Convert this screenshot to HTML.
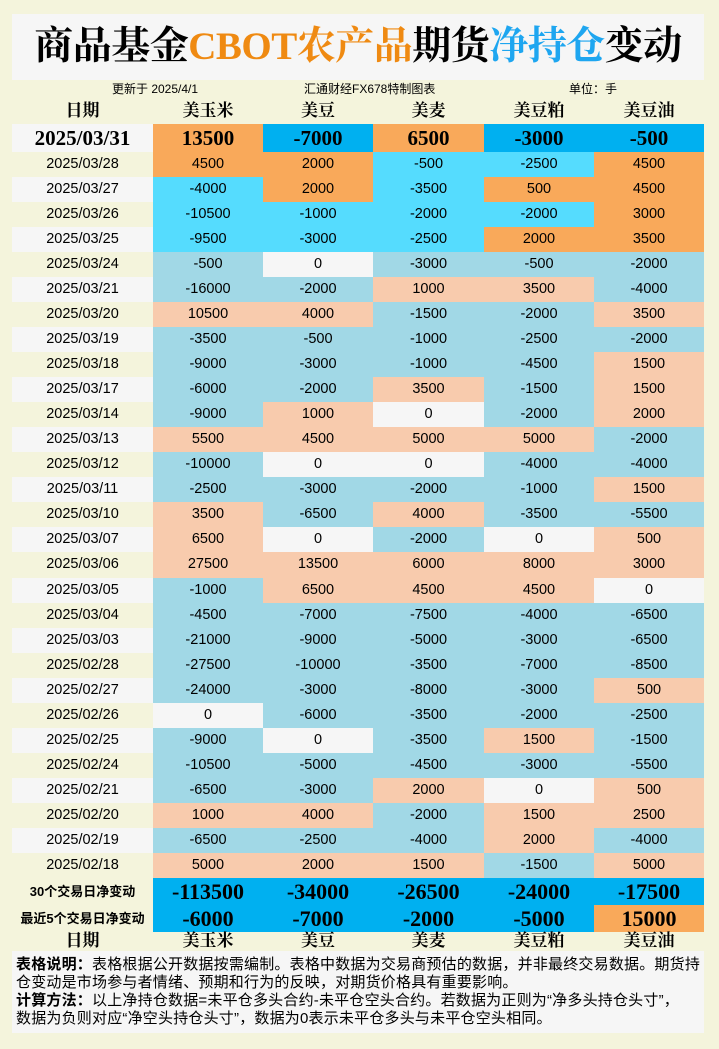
<!DOCTYPE html>
<html><head><meta charset="utf-8">
<style>
*{margin:0;padding:0;box-sizing:border-box}
body{width:719px;height:1049px;background:#f4f4dc;position:relative;overflow:hidden;font-family:"Liberation Sans","Noto Sans CJK SC",sans-serif;color:#000}
.title{position:absolute;left:12px;top:14px;width:692px;height:66px;background:#f6f6f6;text-align:center;font-family:"Liberation Serif","Noto Serif CJK SC",serif;font-size:39px;line-height:66px;font-weight:bold;letter-spacing:-0.5px}
.sub{position:absolute;top:82px;font-size:12px;line-height:14px}
.hdr{position:absolute;left:12px;width:692px;height:20px;display:flex;font-family:"Liberation Serif","Noto Serif CJK SC",serif;font-size:17px;font-weight:bold;line-height:20px}
.hdr div{text-align:center}
.w0{width:141px}.w1{width:110px}.w2{width:110px}.w3{width:111px}.w4{width:110px}.w5{width:110px}
.row{position:absolute;left:12px;width:692px;display:flex;height:25.1px;line-height:25px}
.row div{text-align:center}
.d{font-size:14.5px}
.n{font-size:14.5px}
.big div{font-family:"Liberation Serif","Noto Serif CJK SC",serif;font-weight:bold;font-size:21px}
.sum div{font-family:"Liberation Serif","Noto Serif CJK SC",serif;font-weight:bold;font-size:22px}
.sum div.lab{font-family:"Liberation Sans","Noto Sans CJK SC",sans-serif;font-size:13px}
.o{background:#f9a95a}.c{background:#55dcfe}.p{background:#f8cbad}.b{background:#a1d8e6}.w{background:#f6f6f6}.k{background:#00b0f0}.cr{background:#f4f4dc}
.note{position:absolute;left:12px;top:951px;width:692px;height:82px;background:#f6f6f6;font-size:15px;line-height:18px;padding:5px 0 0 4px;white-space:nowrap;letter-spacing:0.2px}
</style></head><body>
<div class="title">商品基金<span style="color:#ef8a12">CBOT农产品</span>期货<span style="color:#1ea6f0">净持仓</span>变动</div>
<div class="sub" style="left:112px">更新于 2025/4/1</div>
<div class="sub" style="left:304px">汇通财经FX678特制图表</div>
<div class="sub" style="left:569px">单位：手</div>
<div class="hdr" style="top:101px"><div class="w0">日期</div><div class="w1">美玉米</div><div class="w2">美豆</div><div class="w3">美麦</div><div class="w4">美豆粕</div><div class="w5">美豆油</div></div>
<div class="row big" style="top:124px;height:28px;line-height:28px"><div class="w0 w">2025/03/31</div><div class="w1 o">13500</div><div class="w2 k">-7000</div><div class="w3 o">6500</div><div class="w4 k">-3000</div><div class="w5 k">-500</div></div>
<div class="row" style="top:152px"><div class="w0 d cr">2025/03/28</div><div class="w1 n o">4500</div><div class="w2 n o">2000</div><div class="w3 n c">-500</div><div class="w4 n c">-2500</div><div class="w5 n o">4500</div></div>
<div class="row" style="top:177.03px"><div class="w0 d w">2025/03/27</div><div class="w1 n c">-4000</div><div class="w2 n o">2000</div><div class="w3 n c">-3500</div><div class="w4 n o">500</div><div class="w5 n o">4500</div></div>
<div class="row" style="top:202.06px"><div class="w0 d cr">2025/03/26</div><div class="w1 n c">-10500</div><div class="w2 n c">-1000</div><div class="w3 n c">-2000</div><div class="w4 n c">-2000</div><div class="w5 n o">3000</div></div>
<div class="row" style="top:227.09px"><div class="w0 d w">2025/03/25</div><div class="w1 n c">-9500</div><div class="w2 n c">-3000</div><div class="w3 n c">-2500</div><div class="w4 n o">2000</div><div class="w5 n o">3500</div></div>
<div class="row" style="top:252.12px"><div class="w0 d cr">2025/03/24</div><div class="w1 n b">-500</div><div class="w2 n w">0</div><div class="w3 n b">-3000</div><div class="w4 n b">-500</div><div class="w5 n b">-2000</div></div>
<div class="row" style="top:277.15px"><div class="w0 d w">2025/03/21</div><div class="w1 n b">-16000</div><div class="w2 n b">-2000</div><div class="w3 n p">1000</div><div class="w4 n p">3500</div><div class="w5 n b">-4000</div></div>
<div class="row" style="top:302.18px"><div class="w0 d cr">2025/03/20</div><div class="w1 n p">10500</div><div class="w2 n p">4000</div><div class="w3 n b">-1500</div><div class="w4 n b">-2000</div><div class="w5 n p">3500</div></div>
<div class="row" style="top:327.21px"><div class="w0 d w">2025/03/19</div><div class="w1 n b">-3500</div><div class="w2 n b">-500</div><div class="w3 n b">-1000</div><div class="w4 n b">-2500</div><div class="w5 n b">-2000</div></div>
<div class="row" style="top:352.24px"><div class="w0 d cr">2025/03/18</div><div class="w1 n b">-9000</div><div class="w2 n b">-3000</div><div class="w3 n b">-1000</div><div class="w4 n b">-4500</div><div class="w5 n p">1500</div></div>
<div class="row" style="top:377.27px"><div class="w0 d w">2025/03/17</div><div class="w1 n b">-6000</div><div class="w2 n b">-2000</div><div class="w3 n p">3500</div><div class="w4 n b">-1500</div><div class="w5 n p">1500</div></div>
<div class="row" style="top:402.3px"><div class="w0 d cr">2025/03/14</div><div class="w1 n b">-9000</div><div class="w2 n p">1000</div><div class="w3 n w">0</div><div class="w4 n b">-2000</div><div class="w5 n p">2000</div></div>
<div class="row" style="top:427.33px"><div class="w0 d w">2025/03/13</div><div class="w1 n p">5500</div><div class="w2 n p">4500</div><div class="w3 n p">5000</div><div class="w4 n p">5000</div><div class="w5 n b">-2000</div></div>
<div class="row" style="top:452.36px"><div class="w0 d cr">2025/03/12</div><div class="w1 n b">-10000</div><div class="w2 n w">0</div><div class="w3 n w">0</div><div class="w4 n b">-4000</div><div class="w5 n b">-4000</div></div>
<div class="row" style="top:477.39px"><div class="w0 d w">2025/03/11</div><div class="w1 n b">-2500</div><div class="w2 n b">-3000</div><div class="w3 n b">-2000</div><div class="w4 n b">-1000</div><div class="w5 n p">1500</div></div>
<div class="row" style="top:502.42px"><div class="w0 d cr">2025/03/10</div><div class="w1 n p">3500</div><div class="w2 n b">-6500</div><div class="w3 n p">4000</div><div class="w4 n b">-3500</div><div class="w5 n b">-5500</div></div>
<div class="row" style="top:527.45px"><div class="w0 d w">2025/03/07</div><div class="w1 n p">6500</div><div class="w2 n w">0</div><div class="w3 n b">-2000</div><div class="w4 n w">0</div><div class="w5 n p">500</div></div>
<div class="row" style="top:552.48px"><div class="w0 d cr">2025/03/06</div><div class="w1 n p">27500</div><div class="w2 n p">13500</div><div class="w3 n p">6000</div><div class="w4 n p">8000</div><div class="w5 n p">3000</div></div>
<div class="row" style="top:577.51px"><div class="w0 d w">2025/03/05</div><div class="w1 n b">-1000</div><div class="w2 n p">6500</div><div class="w3 n p">4500</div><div class="w4 n p">4500</div><div class="w5 n w">0</div></div>
<div class="row" style="top:602.54px"><div class="w0 d cr">2025/03/04</div><div class="w1 n b">-4500</div><div class="w2 n b">-7000</div><div class="w3 n b">-7500</div><div class="w4 n b">-4000</div><div class="w5 n b">-6500</div></div>
<div class="row" style="top:627.57px"><div class="w0 d w">2025/03/03</div><div class="w1 n b">-21000</div><div class="w2 n b">-9000</div><div class="w3 n b">-5000</div><div class="w4 n b">-3000</div><div class="w5 n b">-6500</div></div>
<div class="row" style="top:652.6px"><div class="w0 d cr">2025/02/28</div><div class="w1 n b">-27500</div><div class="w2 n b">-10000</div><div class="w3 n b">-3500</div><div class="w4 n b">-7000</div><div class="w5 n b">-8500</div></div>
<div class="row" style="top:677.63px"><div class="w0 d w">2025/02/27</div><div class="w1 n b">-24000</div><div class="w2 n b">-3000</div><div class="w3 n b">-8000</div><div class="w4 n b">-3000</div><div class="w5 n p">500</div></div>
<div class="row" style="top:702.66px"><div class="w0 d cr">2025/02/26</div><div class="w1 n w">0</div><div class="w2 n b">-6000</div><div class="w3 n b">-3500</div><div class="w4 n b">-2000</div><div class="w5 n b">-2500</div></div>
<div class="row" style="top:727.69px"><div class="w0 d w">2025/02/25</div><div class="w1 n b">-9000</div><div class="w2 n w">0</div><div class="w3 n b">-3500</div><div class="w4 n p">1500</div><div class="w5 n b">-1500</div></div>
<div class="row" style="top:752.72px"><div class="w0 d cr">2025/02/24</div><div class="w1 n b">-10500</div><div class="w2 n b">-5000</div><div class="w3 n b">-4500</div><div class="w4 n b">-3000</div><div class="w5 n b">-5500</div></div>
<div class="row" style="top:777.75px"><div class="w0 d w">2025/02/21</div><div class="w1 n b">-6500</div><div class="w2 n b">-3000</div><div class="w3 n p">2000</div><div class="w4 n w">0</div><div class="w5 n p">500</div></div>
<div class="row" style="top:802.78px"><div class="w0 d cr">2025/02/20</div><div class="w1 n p">1000</div><div class="w2 n p">4000</div><div class="w3 n b">-2000</div><div class="w4 n p">1500</div><div class="w5 n p">2500</div></div>
<div class="row" style="top:827.81px"><div class="w0 d w">2025/02/19</div><div class="w1 n b">-6500</div><div class="w2 n b">-2500</div><div class="w3 n b">-4000</div><div class="w4 n p">2000</div><div class="w5 n b">-4000</div></div>
<div class="row" style="top:852.84px"><div class="w0 d cr">2025/02/18</div><div class="w1 n p">5000</div><div class="w2 n p">2000</div><div class="w3 n p">1500</div><div class="w4 n b">-1500</div><div class="w5 n p">5000</div></div>
<div class="row sum" style="top:878px;height:27px;line-height:27px"><div class="w0 lab cr" style="font-weight:bold">30个交易日净变动</div><div class="w1 k">-113500</div><div class="w2 k">-34000</div><div class="w3 k">-26500</div><div class="w4 k">-24000</div><div class="w5 k">-17500</div></div>
<div class="row sum" style="top:905px;height:27px;line-height:27px"><div class="w0 lab cr" style="font-weight:bold">最近5个交易日净变动</div><div class="w1 k">-6000</div><div class="w2 k">-7000</div><div class="w3 k">-2000</div><div class="w4 k">-5000</div><div class="w5 o">15000</div></div>
<div class="hdr" style="top:931px"><div class="w0">日期</div><div class="w1">美玉米</div><div class="w2">美豆</div><div class="w3">美麦</div><div class="w4">美豆粕</div><div class="w5">美豆油</div></div>
<div class="note"><b>表格说明：</b>表格根据公开数据按需编制。表格中数据为交易商预估的数据，并非最终交易数据。期货持<br>仓变动是市场参与者情绪、预期和行为的反映，对期货价格具有重要影响。<br><b>计算方法：</b>以上净持仓数据=未平仓多头合约-未平仓空头合约。若数据为正则为“净多头持仓头寸”，<br>数据为负则对应“净空头持仓头寸”，数据为0表示未平仓多头与未平仓空头相同。</div>
</body></html>
